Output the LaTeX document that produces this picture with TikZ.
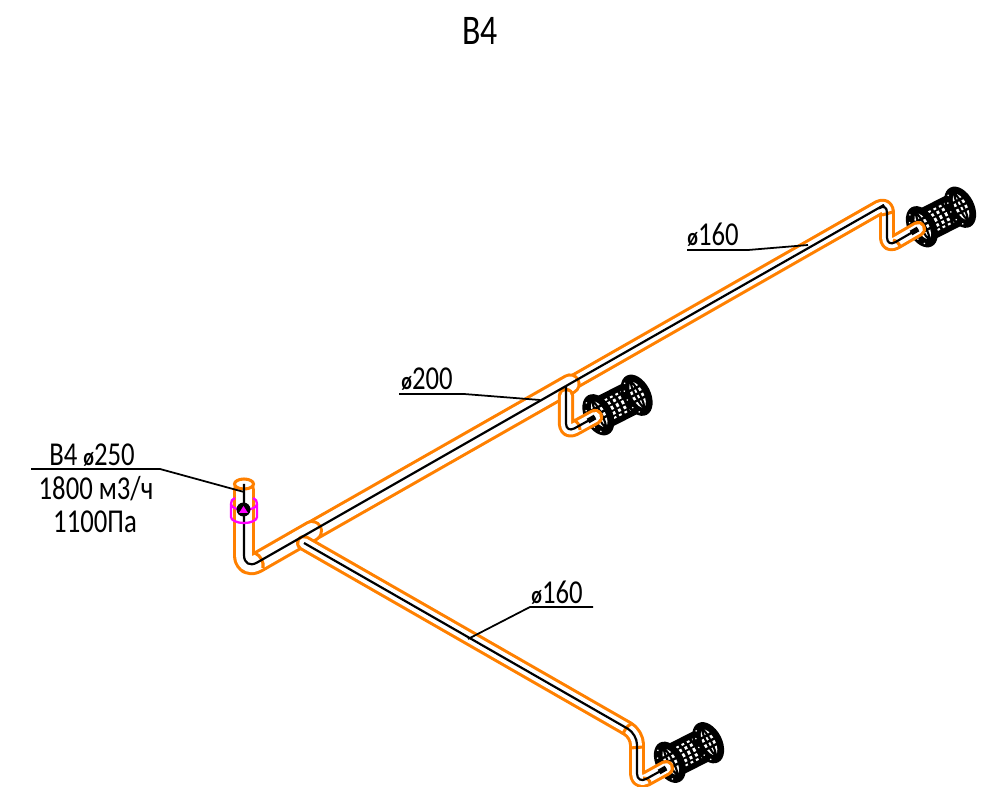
\documentclass[tikz,border=0pt]{standalone}
\usepackage{fontspec}
\setmainfont[FakeStretch=0.8]{Carlito}
\definecolor{pipeorange}{RGB}{255,128,0}
\definecolor{valvepink}{RGB}{255,0,255}
\newcommand{\dia}{{\fontsize{14}{14}\selectfont\bfseries ø}}
\tikzset{
    x=0.02cm, y=-0.02cm,
    tag/.style = {font=\fontsize{19}{19}\selectfont, inner sep=0pt},
    leader/.style = {draw, line width=1pt},
    axisline/.style = {draw, line width=1.25pt, line join=round},
    duct/.style = {draw=pipeorange, line width=1.75pt, double=white, line join=round, line cap=round},
    joint/.style = {draw=pipeorange, line width=1.75pt},
    damper/.style = {draw=valvepink, line width=1.3pt},
    pics/filterunit/.style = {code={
        \begin{scope}[rotate=27]
            % mesh body
            \fill[black] (-22,-17) rectangle (22,17);
            \foreach \yy/\hh in {-10/1,-5.5/1.5,0/1.9,5.5/1.5,10/1} {
                \foreach \xx in {-12.5,-6.5,-0.5,5.5} {
                    \pgfmathsetmacro{\bow}{5*(1-(\yy/17)^2)}
                    \fill[white] (\xx+\bow,\yy-\hh) rectangle (\xx+\bow+2.8,\yy+\hh);
                }
            }
            % end discs
            \foreach \dx in {-21.5,21.5} {
                \begin{scope}[shift={(\dx,0)}]
                    \fill[black] (0,0) ellipse (14 and 22);
                    \fill[white] (1,0) ellipse (6 and 14);
                    \draw[black, line width=1.2pt] (1,0) ellipse (2.2 and 14);
                    \foreach \yy in {-7,-1,5} {
                        \draw[black, line width=1.4pt] (-6,\yy) -- (8,\yy);
                    }
                    \foreach \aa in {120,150,180,210,240} {
                        \fill[white] (\aa:10.5 and 18.5) circle (0.9);
                    }
                \end{scope}
            }
        \end{scope}
    }},
}
\begin{document}
\begin{tikzpicture}
    \useasboundingbox (0,0) rectangle (985,787);

    \coordinate (risertop) at (244,484);
    \coordinate (riserfoot) at (244,570);
    \coordinate (collar) at (312,531);
    \coordinate (teelow) at (304,543);
    \coordinate (teemid) at (566,386);
    \coordinate (capmid) at (570,384);
    \coordinate (lowbend) at (637,734);
    \coordinate (lowfoot) at (637,784);
    \coordinate (lowend) at (666,768);
    \coordinate (midtop) at (566,396);
    \coordinate (midfoot) at (566,433);
    \coordinate (midend) at (595,417);
    \coordinate (topbend) at (887,203);
    \coordinate (topfoot) at (887,247);
    \coordinate (topend) at (918,229);

    \pic at (617.5,405) {filterunit};
    \pic at (941,217) {filterunit};
    \pic at (689,752.5) {filterunit};

    % ducts, back to front
    \draw[duct, double distance=5.6pt, rounded corners=5.4pt] (capmid) -- (topbend) -- (topfoot) -- (topend);
    \draw[duct, double distance=8.6pt] (collar) -- (capmid);
    \draw[duct, double distance=9pt, rounded corners=8.5pt] (244,490) -- (riserfoot) -- (collar);
    \draw[duct, double distance=5.6pt, rounded corners=6pt] (teelow) -- (lowbend) -- (lowfoot) -- (lowend);
    \draw[duct, double distance=5.8pt, rounded corners=5.4pt] (midtop) -- (midfoot) -- (midend);

    % joints
    \draw[joint] (255,553) .. controls (261,556) and (264,562) .. (263,568);
    \draw[joint] (573,420) .. controls (577,421) and (580,425) .. (580,430);
    \draw[joint] (882,215) -- (893,212);
    \draw[joint] (893,240) .. controls (897,241) and (900,244) .. (900,248);
    \draw[joint] (623,735) .. controls (624,730) and (627,726) .. (631,724);
    \draw[joint] (630,748) -- (643,747);
    \draw[joint] (643,778) .. controls (647,778) and (650,780) .. (650,783);

    % riser mouth
    \draw[joint, fill=white] (risertop) ellipse (9.5 and 5);

    % axis lines
    \draw[axisline, rounded corners=8.5pt] (risertop) -- (riserfoot) -- (teemid);
    \draw[axisline] (teemid) -- (884,205);
    \draw[axisline, rounded corners=5.4pt] (884,205) -- (topbend) -- (topfoot) -- (topend);
    \draw[axisline, rounded corners=6pt] (teelow) -- (lowbend) -- (lowfoot) -- (lowend);
    \draw[axisline, rounded corners=5.4pt] (teemid) -- (midfoot) -- (midend);
    \draw[line width=3pt] (588,421) -- (midend);
    \draw[line width=3pt] (911,233) -- (topend);
    \draw[line width=3pt] (659,772) -- (lowend);

    % damper
    \draw[damper] (235,498) .. controls (232,499) and (231,501) .. (231,504) -- (231,517)
        arc[start angle=180, end angle=0, x radius=13, y radius=6]
        -- (257,504) .. controls (257,501) and (256,499) .. (253,498);
    \draw[damper] (231,504) arc[start angle=180, end angle=0, x radius=13, y radius=6];
    \fill[black] (243.5,509.5) circle (7);
    \fill[valvepink] (239,513) -- (243.5,506) -- (248,513) -- cycle;

    % labels
    \node[tag, font=\fontsize{24}{24}\selectfont] (title) at (480,31) {B4};
    \node[tag] (labmain) at (92,455) {B4 \dia 250};
    \node[tag] (labflow) at (96,489) {1800 м3/ч};
    \node[tag] (labpress) at (95,522) {1100Па};
    \node[tag] (labtop) at (713,235) {\dia 160};
    \node[tag] (labmid) at (427,379) {\dia 200};
    \node[tag] (lablow) at (557,593) {\dia 160};

    \coordinate (tipmain) at (244,492);
    \coordinate (tiptop) at (808,245);
    \coordinate (tipmid) at (540,400);
    \coordinate (tiplow) at (468,639);
    \draw[leader] (31,469) -- (160,469) -- (tipmain);
    \draw[leader] (687,250) -- (748,250) -- (tiptop);
    \draw[leader] (399,394) -- (464,394) -- (tipmid);
    \draw[leader] (593,607) -- (530,607) -- (tiplow);
\end{tikzpicture}
\end{document}
